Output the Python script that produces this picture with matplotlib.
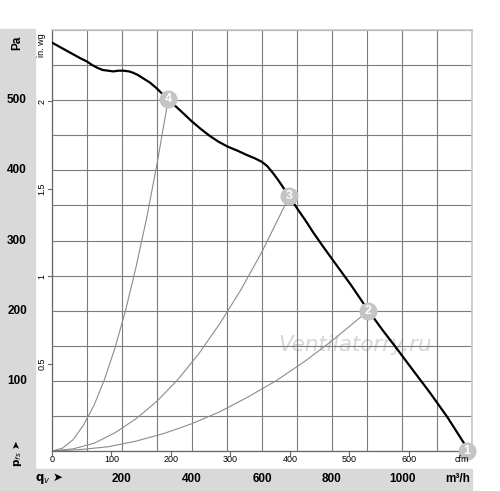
import matplotlib
matplotlib.use("Agg")
import matplotlib.pyplot as plt
from matplotlib.patches import Rectangle
from matplotlib.transforms import blended_transform_factory
import numpy as np

# fan curve (m3/h, Pa)
qv_fan = [0, 40, 80, 100, 115, 130, 145, 160, 175, 190, 205, 220, 232, 245, 261, 280, 299,
          315, 332, 365, 399, 425, 451, 475, 501, 530, 556, 580, 600, 615, 630, 645, 660,
          678, 700, 725, 747, 775, 804, 855, 904, 945, 985, 1030, 1080, 1130, 1176]
pf_fan = [582, 571, 560, 555, 550, 546, 543, 542, 541, 542, 542, 541, 539, 536, 531, 525, 517,
          509, 501, 486, 470, 459, 449, 441, 434, 428, 422, 417, 412, 406, 397, 387, 376,
          363, 346, 328, 311, 291, 271, 236, 200, 172, 146, 116, 83, 48, 12]

# system curves
qv_s4 = [0, 30, 60, 90, 120, 150, 180, 210, 240, 270, 300, 332]
pf_s4 = [0, 4, 16, 37, 65, 102, 147, 200, 262, 331, 409, 501]
qv_s3 = [0, 60, 120, 180, 240, 300, 360, 420, 480, 540, 600, 678]
pf_s3 = [0, 3, 11, 26, 46, 71, 102, 139, 182, 230, 284, 363]
qv_s2 = [0, 80, 160, 240, 320, 400, 480, 560, 640, 720, 800, 904]
pf_s2 = [0, 2, 6, 14, 25, 39, 56, 77, 100, 127, 157, 200]

# operating points
pt_labels = ["1", "2", "3", "4"]
pt_qv = [1185, 904, 678, 332]
pt_pf = [0, 200, 363, 501]

pa_ticks = [100, 200, 300, 400, 500]
inwg_ticks = [0.5, 1, 1.5, 2]
cfm_ticks = [0, 100, 200, 300, 400, 500, 600]
m3h_ticks = [200, 400, 600, 800, 1000]

W, H = 500, 491
fig = plt.figure(figsize=(W / 100, H / 100), dpi=100)
ax = fig.add_axes([52 / W, 1 - 451 / H, 420 / W, 421 / H])

# grey bands
fig.patches.append(Rectangle((0, 0), 35 / W, 1 - 29 / H, transform=fig.transFigure,
                             color="#d9d9d9", zorder=0))
fig.patches.append(Rectangle((0, 0), 472 / W, 22 / H, transform=fig.transFigure,
                             color="#d9d9d9", zorder=0))

ax.set_xlim(0, 1200)
ax.set_ylim(0, 600)
ax.set_xticks(np.arange(0, 1201, 100))
ax.set_yticks(np.arange(0, 601, 50))
ax.grid(True, color="#7c7c7c", lw=0.8)
ax.tick_params(length=0, labelbottom=False, labelleft=False)
for s in ["left", "bottom"]:
    ax.spines[s].set_color("#666666")
    ax.spines[s].set_linewidth(0.9)
for s in ["top", "right"]:
    ax.spines[s].set_color("#c8c8c8")
    ax.spines[s].set_linewidth(1.2)

ax.text(0.721, 0.252, "Ventilatorry.ru", transform=ax.transAxes, ha="center", va="center",
        fontsize=15.5, style="italic", family="DejaVu Sans", color="#d6d6d6", zorder=1)

ax.plot(qv_s4, pf_s4, color="#8c8c8c", lw=0.8, zorder=2)
ax.plot(qv_s3, pf_s3, color="#8c8c8c", lw=0.8, zorder=2)
ax.plot(qv_s2, pf_s2, color="#8c8c8c", lw=0.8, zorder=2)
ax.plot(qv_fan, pf_fan, color="black", lw=1.6, zorder=3, solid_joinstyle="round")

for lab, x, y in zip(pt_labels, pt_qv, pt_pf):
    ax.plot(x, y, "o", ms=13, color="#c4c4c4", mec="none", zorder=4, clip_on=False)
    ax.text(x, y, lab, ha="center", va="center", fontsize=9, fontweight="bold",
            color="white", zorder=5, clip_on=False, family="Liberation Sans")

# left axis labels
tr_y = blended_transform_factory(fig.transFigure, ax.transData)
tick_y = blended_transform_factory(ax.transAxes, ax.transData)
for v in pa_ticks:
    fig.text(17 / W, v, str(v), transform=tr_y, ha="center", va="center",
             fontsize=8.5, fontweight="bold", family="Liberation Sans")
for v in inwg_ticks:
    y = v * 249.09
    fig.text(42 / W, y, f"{v:g}", transform=tr_y, ha="center", va="center",
             rotation=90, fontsize=6.5, family="Liberation Sans")
    ax.plot([-0.009, 0], [y, y], transform=tick_y, color="#666666", lw=0.8, clip_on=False)

fig.text(17 / W, 1 - 43 / H, "Pa", ha="center", va="center", rotation=90,
         fontsize=8.5, fontweight="bold", family="Liberation Sans")
fig.text(42 / W, 1 - 45 / H, "in. wg", ha="center", va="center", rotation=90,
         fontsize=6.5, family="Liberation Sans")
fig.text(17 / W, 1 - 453 / H, "p$_{fs}$ ➤", ha="center", va="center", rotation=90,
         fontsize=7.5, fontweight="bold", family="DejaVu Sans")

# bottom axis labels
tr_x = blended_transform_factory(ax.transData, fig.transFigure)
tick_x = blended_transform_factory(ax.transData, ax.transAxes)
for v in cfm_ticks:
    q = v * 1.699
    fig.text(q, 1 - 459 / H, str(v), transform=tr_x, ha="center", va="center",
             fontsize=6.5, family="Liberation Sans")
    ax.plot([q, q], [-0.009, 0], transform=tick_x, color="#666666", lw=0.8, clip_on=False)
fig.text(462 / W, 1 - 459 / H, "cfm", ha="center", va="center", fontsize=6.5,
         family="Liberation Sans", zorder=1)
for v in m3h_ticks:
    fig.text(v, 1 - 479 / H, str(v), transform=tr_x, ha="center", va="center",
             fontsize=8.5, fontweight="bold", family="Liberation Sans")
fig.text(470 / W, 1 - 479 / H, "m³/h", ha="right", va="center",
         fontsize=8.5, fontweight="bold", family="Liberation Sans")
fig.text(35 / W, 1 - 479 / H, "q$_v$ ➤", ha="left", va="center",
         fontsize=8.5, fontweight="bold", family="DejaVu Sans")

fig.savefig("out.png", dpi=100)
